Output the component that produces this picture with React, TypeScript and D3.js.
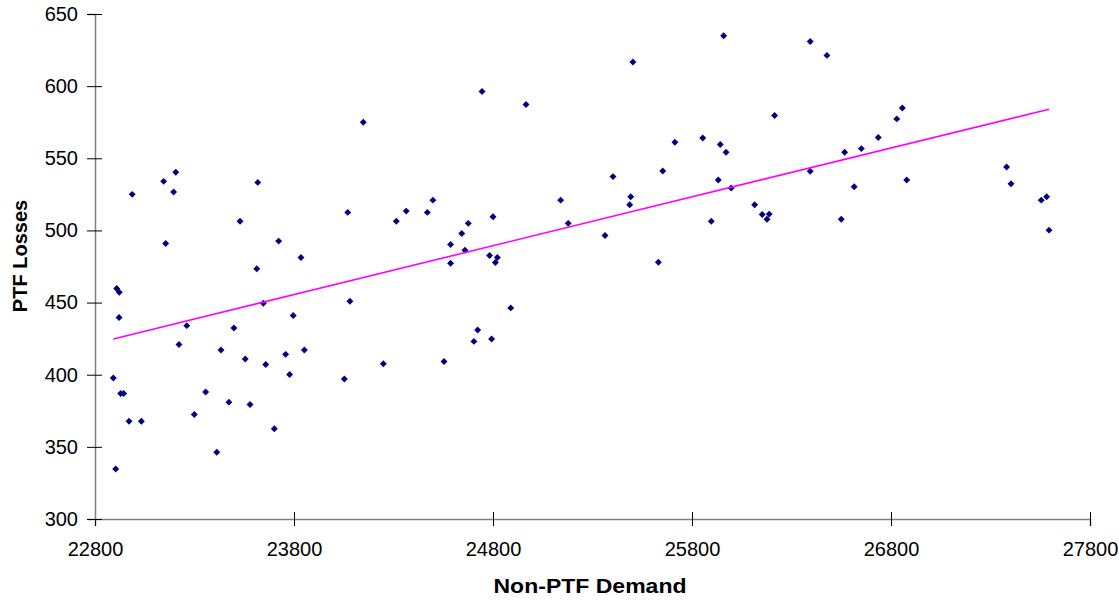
import { useEffect, useRef } from 'react';
import { scaleLinear, select, axisBottom, axisLeft, symbol, symbolSquare, line } from 'd3';

// Non-PTF demand (x) and PTF losses (y)
const demand = [
  22892, 22904, 22909, 22921, 22922, 22929, 22944, 22971, 22987, 23033,
  23145, 23155, 23195, 23206, 23222, 23261, 23299, 23356, 23412, 23433,
  23473, 23498, 23529, 23555, 23579, 23613, 23618, 23646, 23658, 23701,
  23723, 23758, 23778, 23796, 23835, 23852, 24053, 24070, 24081, 24148,
  24249, 24314, 24364, 24470, 24498, 24554, 24587, 24587, 24643, 24659,
  24676, 24704, 24723, 24745, 24783, 24793, 24800, 24812, 24822, 24889,
  24966, 25140, 25178, 25363, 25403, 25487, 25492, 25503, 25631, 25653,
  25714, 25854, 25897, 25932, 25942, 25959, 25971, 25997, 26115, 26153,
  26177, 26188, 26215, 26394, 26394, 26478, 26550, 26567, 26615, 26651,
  26736, 26829, 26857, 26879, 27381, 27403, 27555, 27582, 27594,
];
const losses = [
  397.7, 334.7, 459.7, 439.6, 457.1, 387.0, 387.0, 367.8, 525.0, 367.8,
  534.0, 491.0, 526.6, 540.3, 421.0, 434.0, 372.4, 388.0, 346.3, 417.1,
  381.0, 432.4, 506.4, 410.9, 379.4, 473.4, 533.3, 449.5, 407.1, 362.5,
  492.6, 414.1, 400.2, 441.0, 481.2, 417.1, 397.0, 512.5, 450.9, 575.0,
  407.6, 506.4, 513.4, 512.5, 521.0, 409.2, 490.3, 477.3, 497.9, 486.3,
  504.9, 423.1, 431.0, 596.3, 482.6, 424.8, 509.5, 477.8, 481.2, 446.3,
  587.3, 521.0, 504.9, 496.5, 537.3, 517.8, 523.4, 616.7, 478.0, 541.2,
  561.1, 564.1, 506.4, 534.9, 559.5, 634.9, 554.2, 529.4, 517.8, 511.1,
  507.8, 511.3, 579.6, 631.0, 541.0, 621.3, 507.8, 554.2, 530.3, 556.7,
  564.4, 577.3, 584.9, 534.9, 544.0, 532.4, 521.0, 523.4, 500.2,
];

// linear trend line ends
const trendDemand = [22892, 27594];
const trendLosses = [424.8, 584.0];

const xTicks = [22800, 23800, 24800, 25800, 26800, 27800];
const yTicks = [300, 350, 400, 450, 500, 550, 600, 650];

const W = 1119;
const H = 603;

const x = scaleLinear().domain([22800, 27800]).range([95, 1090]);
const y = scaleLinear().domain([300, 650]).range([519, 14]);

const XAxis = () => {
  const ref = useRef<SVGGElement>(null);
  useEffect(() => {
    if (!ref.current) return;
    const g = select(ref.current);
    g.call(axisBottom(x).tickValues(xTicks).tickSize(7).tickPadding(16).tickFormat((d) => String(d)));
    g.select('.domain').attr('stroke', '#808080').attr('stroke-width', 1.5);
    g.selectAll('.tick line').attr('y1', -7).attr('stroke', '#000');
    g.selectAll('.tick text')
      .attr('font-family', 'Liberation Sans, Arial, sans-serif')
      .attr('font-size', 20)
      .attr('fill', '#000');
  });
  return <g ref={ref} transform={`translate(0, ${y(300)})`} />;
};

const YAxis = () => {
  const ref = useRef<SVGGElement>(null);
  useEffect(() => {
    if (!ref.current) return;
    const g = select(ref.current);
    g.call(axisLeft(y).tickValues(yTicks).tickSize(7).tickPadding(10));
    g.select('.domain').attr('stroke', '#808080').attr('stroke-width', 1.5);
    g.selectAll('.tick line').attr('x1', 7).attr('x2', -8).attr('stroke', '#000');
    g.selectAll('.tick text')
      .attr('font-family', 'Liberation Sans, Arial, sans-serif')
      .attr('font-size', 20)
      .attr('fill', '#000');
  });
  return <g ref={ref} transform={`translate(${x(22800)}, 0)`} />;
};

export default function App() {
  // square turned 45° gives the Excel-style diamond marker
  const marker = symbol().type(symbolSquare).size(24)() as string;
  const trend = line<number>()
    .x((d) => x(d))
    .y((_, i) => y(trendLosses[i]));

  return (
    <svg
      width={W}
      height={H}
      style={{ position: 'absolute', left: 0, top: 0, background: '#fff' }}
    >
      <XAxis />
      <YAxis />
      <g>
        {demand.map((d, i) => (
          <path
            key={i}
            d={marker}
            transform={`translate(${x(d)}, ${y(losses[i])}) rotate(45)`}
            fill="#000080"
          />
        ))}
      </g>
      <path d={trend(trendDemand) as string} stroke="#ff00ff" strokeWidth={1.6} fill="none" />
      <text
        x={590}
        y={593}
        textAnchor="middle"
        fontFamily="Liberation Sans, Arial, sans-serif"
        fontWeight="bold"
        fontSize={21}
        textLength={193}
        lengthAdjust="spacingAndGlyphs"
      >
        Non-PTF Demand
      </text>
      <text
        transform="translate(27, 256) rotate(-90)"
        textAnchor="middle"
        fontFamily="Liberation Sans, Arial, sans-serif"
        fontWeight="bold"
        fontSize={20}
      >
        PTF Losses
      </text>
    </svg>
  );
}
